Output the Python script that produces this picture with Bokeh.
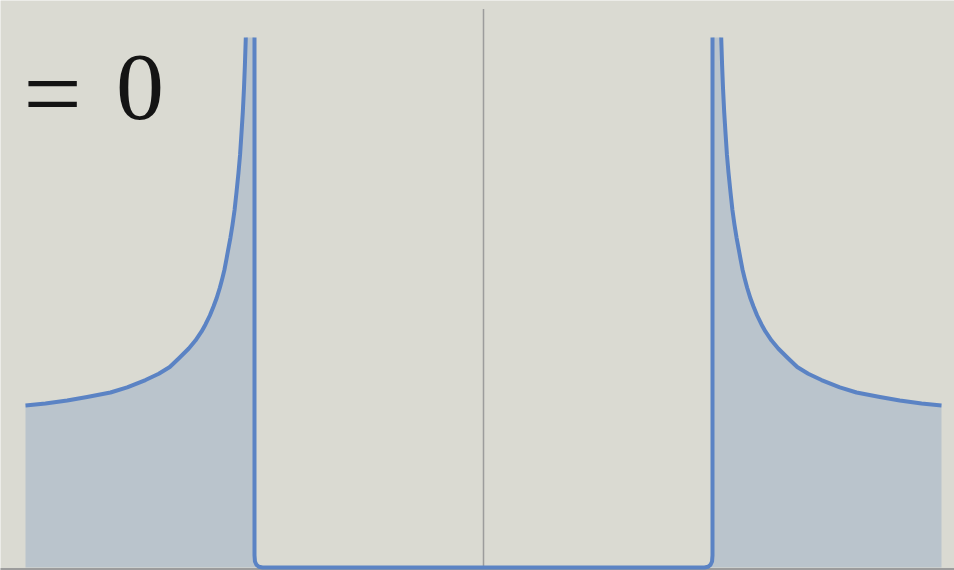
from bokeh.plotting import figure
from bokeh.models import Range1d, Label
from bokeh.embed import file_html
from bokeh.resources import INLINE

# Outer branch left of the support (x < -1)
left_x = [-2.000, -1.913, -1.818, -1.731, -1.629, -1.556, -1.476, -1.418, -1.370,
          -1.331, -1.287, -1.258, -1.231, -1.214, -1.195, -1.179, -1.166, -1.151,
          -1.140, -1.131, -1.122, -1.114, -1.105, -1.096, -1.087, -1.079, -1.070,
          -1.063, -1.057, -1.051, -1.046, -1.042, -1.038]
left_y = [1.157, 1.171, 1.193, 1.218, 1.250, 1.286, 1.339, 1.384, 1.432,
          1.493, 1.564, 1.621, 1.686, 1.736, 1.800, 1.864, 1.921, 2.000,
          2.068, 2.129, 2.207, 2.278, 2.357, 2.448, 2.553, 2.674, 2.819,
          2.949, 3.099, 3.254, 3.421, 3.586, 3.786]

# Outer branch right of the support (x > 1)
right_x = [1.038, 1.042, 1.046, 1.051, 1.057, 1.063, 1.070, 1.079, 1.087,
           1.096, 1.105, 1.114, 1.122, 1.131, 1.140, 1.151, 1.166, 1.179,
           1.195, 1.214, 1.231, 1.258, 1.287, 1.331, 1.370, 1.418, 1.476,
           1.556, 1.629, 1.731, 1.818, 1.913, 2.000]
right_y = [3.786, 3.586, 3.421, 3.254, 3.099, 2.949, 2.819, 2.674, 2.553,
           2.448, 2.357, 2.278, 2.207, 2.129, 2.068, 2.000, 1.921, 1.864,
           1.800, 1.736, 1.686, 1.621, 1.564, 1.493, 1.432, 1.384, 1.339,
           1.286, 1.250, 1.218, 1.193, 1.171, 1.157]

# Inner edge: drops from the spike at x=-1 to zero and climbs back at x=+1
gap_x = [-1.000, -1.000, -0.998, -0.991, -0.980, -0.965,
         0.965, 0.980, 0.991, 0.998, 1.000, 1.000]
gap_y = [3.786, 0.086, 0.043, 0.018, 0.005, 0.000,
         0.000, 0.005, 0.018, 0.043, 0.086, 3.786]

BG = "#dadad2"
LINE = "#5b83c4"
FILL = "#bac4cc"
AXIS = "#9c9c9c"
INK = "#141414"

p = figure(width=954, height=570,
           x_range=Range1d(-483 / 229, 471 / 229),
           y_range=Range1d(-3 / 140, 567 / 140),
           output_backend="svg", toolbar_location=None, min_border=0)
p.axis.visible = False
p.grid.visible = False
p.outline_line_color = None
p.background_fill_color = BG
p.border_fill_color = BG

# Shaded area under the density on both sides
half = len(gap_x) // 2
fill_left_x = [left_x[0]] + left_x + gap_x[:half]
fill_left_y = [0.0] + left_y + gap_y[:half]
fill_right_x = gap_x[half:] + right_x + [right_x[-1]]
fill_right_y = gap_y[half:] + right_y + [0.0]
p.patches([fill_left_x, fill_right_x], [fill_left_y, fill_right_y],
          fill_color=FILL, line_color=None)

# Axes: baseline and the vertical line at x = 0
p.line([-2.2, 2.2], [-0.014, -0.014], line_color=AXIS, line_width=3)
p.line([0, 0], [-0.03, 3.99], line_color=AXIS, line_width=1.5)

# Density curve
p.multi_line([left_x, gap_x, right_x], [left_y, gap_y, right_y],
             line_color=LINE, line_width=4, line_join="round")

p.add_layout(Label(x=-1.882, y=3.384, text="=", text_align="center",
                   text_baseline="alphabetic", text_font="Liberation Serif",
                   text_font_size="104px", text_color=INK))
p.add_layout(Label(x=-1.500, y=3.429, text="0", text_align="center",
                   text_baseline="alphabetic", text_font="Liberation Serif",
                   text_font_size="96px", text_color=INK))

open("out.html", "w").write(file_html(p, INLINE))
